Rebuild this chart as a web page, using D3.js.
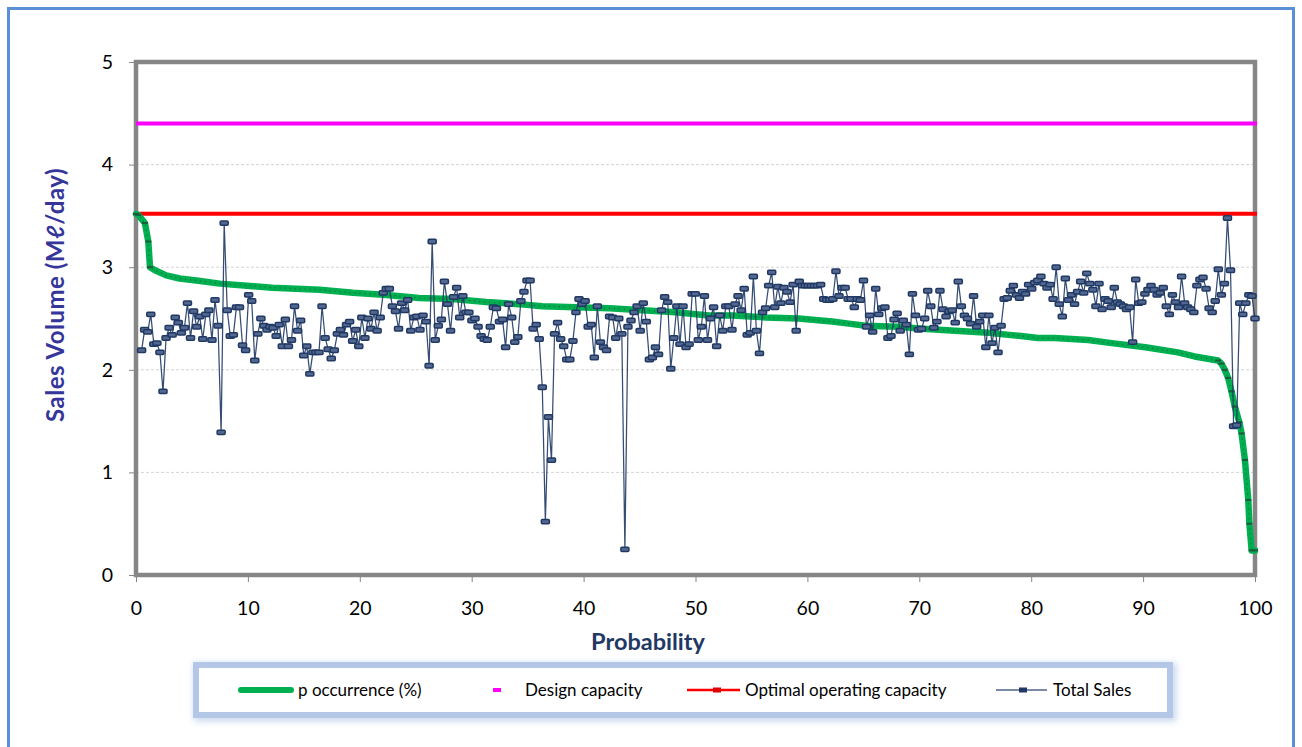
<!DOCTYPE html>
<html><head><meta charset="utf-8">
<script src="https://cdn.jsdelivr.net/npm/d3@7/dist/d3.min.js"></script>
<style>
html,body{margin:0;padding:0;background:#fff;}
text{font-family:Lato,"Open Sans",sans-serif;}
</style></head>
<body>
<svg id="chart" width="1302" height="747"></svg>
<script>
// ---------- DATA ----------
const xTicks = [0,10,20,30,40,50,60,70,80,90,100];
const yTicks = [0,1,2,3,4,5];
const designCapacity = 4.4;
const optimalCapacity = 3.52;

// Total Sales (daily values, plotted in order across the 0-100 probability axis)
const totalSales = [
2.19,2.39,2.37,2.54,2.25,2.26,2.17,1.79,2.31,2.41,2.34,2.51,2.46,2.36,2.41,2.65,2.31,2.57,2.42,2.52,2.30,2.54,2.58,2.29,2.68,2.43,1.39,3.43,2.58,2.33,2.34,2.61,2.61,2.24,2.19,2.73,2.67,2.09,2.35,2.50,2.43,2.39,2.42,2.41,2.33,2.44,2.23,2.49,2.23,2.29,2.62,2.38,2.48,2.14,2.23,1.96,2.17,2.17,2.17,2.62,2.31,2.20,
2.11,2.19,2.35,2.39,2.34,2.44,2.47,2.28,2.39,2.23,2.51,2.31,2.50,2.40,2.56,2.38,2.51,2.75,2.79,2.79,2.62,2.57,2.40,2.65,2.58,2.68,2.38,2.51,2.52,2.39,2.53,2.47,2.04,3.25,2.29,2.43,2.49,2.86,2.64,2.38,2.71,2.80,2.51,2.72,2.56,2.56,2.48,2.50,2.42,2.33,2.30,2.29,2.42,2.61,2.60,2.47,2.49,2.22,2.64,2.51,2.27,2.32,
2.67,2.76,2.87,2.87,2.40,2.44,2.30,1.83,0.52,1.54,1.12,2.35,2.46,2.30,2.23,2.10,2.10,2.28,2.56,2.69,2.64,2.67,2.42,2.44,2.12,2.62,2.27,2.22,2.19,2.52,2.51,2.31,2.50,2.35,0.25,2.42,2.48,2.56,2.62,2.38,2.65,2.47,2.10,2.12,2.22,2.15,2.58,2.71,2.66,2.01,2.31,2.62,2.25,2.62,2.22,2.25,2.74,2.74,2.29,2.42,2.72,2.29,
2.50,2.61,2.23,2.53,2.38,2.62,2.62,2.39,2.64,2.72,2.58,2.79,2.34,2.36,2.91,2.38,2.16,2.56,2.60,2.82,2.95,2.61,2.81,2.65,2.80,2.76,2.66,2.83,2.38,2.86,2.82,2.82,2.82,2.82,2.82,2.82,2.83,2.69,2.68,2.68,2.69,2.96,2.72,2.80,2.80,2.69,2.69,2.61,2.69,2.68,2.87,2.42,2.53,2.37,2.79,2.54,2.60,2.61,2.31,2.33,2.49,2.55,2.38,
2.48,2.44,2.15,2.74,2.53,2.39,2.40,2.50,2.77,2.62,2.41,2.47,2.77,2.59,2.52,2.57,2.58,2.46,2.86,2.62,2.53,2.50,2.45,2.72,2.42,2.47,2.53,2.22,2.53,2.26,2.41,2.17,2.43,2.69,2.70,2.77,2.82,2.73,2.70,2.76,2.74,2.83,2.79,2.85,2.87,2.91,2.84,2.80,2.83,2.69,3.00,2.64,2.52,2.89,2.68,2.73,2.64,2.76,2.86,2.75,2.94,
2.84,2.78,2.62,2.84,2.59,2.69,2.67,2.61,2.80,2.66,2.64,2.62,2.59,2.61,2.27,2.88,2.65,2.66,2.74,2.78,2.82,2.78,2.73,2.75,2.80,2.62,2.54,2.73,2.66,2.61,2.91,2.65,2.61,2.59,2.56,2.82,2.88,2.90,2.79,2.60,2.56,2.67,2.98,2.73,2.84,3.48,2.97,1.45,1.46,2.65,2.54,2.65,2.73,2.72,2.50
];
const salesStart = 0.5; // probability of the first plotted day

// p occurrence (%) curve: probability and value
const occProb = [0,0.2,0.8,1.1,1.25,1.7,2.7,3.9,5.4,7.5,9.9,12.2,14.3,16.4,19.4,22.4,25.3,28.3,31.3,34.2,36.3,39.3,42.3,45.3,48.2,51.2,53.3,56.3,59.2,62.2,63.7,65.2,68.1,70.3,73.2,76.2,79.1,80.6,82.1,85.1,87.2,90.2,93.1,94.6,96.7,97.0,97.3,97.6,97.9,98.2,98.6,98.8,99.1,99.4,99.5,99.7,100];
const occValue = [3.52,3.51,3.43,3.25,3.00,2.97,2.92,2.89,2.87,2.84,2.82,2.80,2.79,2.78,2.75,2.73,2.70,2.69,2.66,2.64,2.62,2.61,2.60,2.58,2.56,2.53,2.53,2.51,2.50,2.47,2.45,2.43,2.42,2.40,2.38,2.36,2.33,2.31,2.31,2.29,2.26,2.22,2.17,2.13,2.09,2.06,2.00,1.92,1.79,1.64,1.49,1.38,1.12,0.73,0.50,0.24,0.24];

const legendLabels = ["p occurrence (%)","Design capacity","Optimal operating capacity","Total Sales"];

// ---------- DRAW ----------
const svg = d3.select("#chart");
const L = 136, R = 1255, T = 62, B = 575;
const x = d3.scaleLinear().domain([0,100]).range([L,R]);
const y = d3.scaleLinear().domain([0,5]).range([B,T]);

const defs = svg.append("defs");
const f = defs.append("filter").attr("id","glow").attr("x","-5%").attr("y","-60%").attr("width","110%").attr("height","220%");
f.append("feGaussianBlur").attr("stdDeviation",3.5);

// outer frame
svg.append("rect").attr("x",8.5).attr("y",8.5).attr("width",1285).attr("height",770)
  .attr("fill","#fff").attr("stroke","#5b8fd6").attr("stroke-width",3);

// gridlines
svg.append("g").selectAll("line").data(yTicks.filter(d=>d>0&&d<5)).join("line")
  .attr("x1",L).attr("x2",R).attr("y1",d=>y(d)).attr("y2",d=>y(d))
  .attr("stroke","#d4d4d4").attr("stroke-width",1).attr("stroke-dasharray","3,2");

// axes
const ya = svg.append("g").attr("transform",`translate(${L},0)`)
  .call(d3.axisLeft(y).tickValues(yTicks).tickSize(7).tickPadding(16).tickFormat(d3.format("d")));
const xa = svg.append("g").attr("transform",`translate(0,${B})`)
  .call(d3.axisBottom(x).tickValues(xTicks).tickSize(7).tickPadding(19).tickFormat(d3.format("d")));
[ya,xa].forEach(a=>{
  a.select(".domain").remove();
  a.selectAll(".tick line").attr("stroke","#868686").attr("stroke-width",1);
  a.selectAll(".tick text").attr("fill","#000").style("font-size","19.5px").style("font-family","Lato, 'Open Sans', sans-serif");
});

// plot frame
svg.append("rect").attr("x",L).attr("y",T).attr("width",R-L).attr("height",B-T)
  .attr("fill","none").attr("stroke","#868686").attr("stroke-width",4.5);

// design & optimal capacity
svg.append("line").attr("x1",x(0)).attr("x2",x(100)+2).attr("y1",y(designCapacity)).attr("y2",y(designCapacity))
  .attr("stroke","#ff00ff").attr("stroke-width",4);
svg.append("line").attr("x1",x(0)).attr("x2",x(100)+2).attr("y1",y(optimalCapacity)).attr("y2",y(optimalCapacity))
  .attr("stroke","#ff0000").attr("stroke-width",4);

// p occurrence curve
const occ = occProb.map((p,i)=>({p, v: occValue[i]}));
const occLine = d3.line().x(d=>x(d.p)).y(d=>y(d.v));
svg.append("path").datum(occ).attr("d",occLine).attr("fill","none")
  .attr("stroke","#00b050").attr("stroke-width",6.5).attr("stroke-linejoin","round").attr("stroke-linecap","round");
svg.append("path").datum(occ).attr("d",occLine).attr("fill","none")
  .attr("stroke","#1e5a3c").attr("stroke-width",1.4).attr("stroke-dasharray","1,4").attr("opacity",0.8);
svg.append("g").selectAll("rect").data(occ.filter(d=>d.p<=1.3||d.p>=96.7)).join("rect")
  .attr("x",d=>x(d.p)-3).attr("y",d=>y(d.v)-1).attr("width",6).attr("height",2).attr("fill","#1e5a3c");

// total sales
const n = totalSales.length;
const step = (100 - salesStart) / (n - 1);
const sales = totalSales.map((v,i)=>({p: salesStart + i*step, v}));
svg.append("path").datum(sales).attr("d",d3.line().x(d=>x(d.p)).y(d=>y(d.v))).attr("fill","none")
  .attr("stroke","#1f3864").attr("stroke-width",1.25).attr("opacity",0.9);
svg.append("g").selectAll("rect").data(sales).join("rect")
  .attr("x",d=>x(d.p)-4).attr("y",d=>y(d.v)-2.2).attr("width",8).attr("height",4.4).attr("rx",1)
  .attr("fill","#54688f").attr("stroke","#1f3864").attr("stroke-width",1.5);

// axis titles
svg.append("text").attr("transform","translate(63.5,295) rotate(-90)").attr("text-anchor","middle")
  .style("font-size","24px").style("font-weight","bold").style("letter-spacing","0.5px")
  .attr("fill","#35359a").text("Sales Volume (Mℓ/day)");
svg.append("text").attr("x",648).attr("y",650).attr("text-anchor","middle")
  .style("font-size","23.5px").style("font-weight","bold").attr("fill","#1f3864").text("Probability");

// legend
const lg = svg.append("g");
lg.append("rect").attr("x",198).attr("y",667).attr("width",974).attr("height",50)
  .attr("fill","none").attr("stroke","#c5d5ee").attr("stroke-width",8).attr("filter","url(#glow)");
lg.append("rect").attr("x",196).attr("y",665).attr("width",974).attr("height",50)
  .attr("fill","#fff").attr("stroke","#b4c7e7").attr("stroke-width",6);
const ly = 690;
lg.append("line").attr("x1",241).attr("x2",291).attr("y1",ly).attr("y2",ly)
  .attr("stroke","#00b050").attr("stroke-width",6).attr("stroke-linecap","round");
lg.append("rect").attr("x",493).attr("y",ly-2).attr("width",8).attr("height",4).attr("fill","#ff00ff");
lg.append("line").attr("x1",687).attr("x2",740).attr("y1",ly).attr("y2",ly).attr("stroke","#ff0000").attr("stroke-width",2.5);
lg.append("rect").attr("x",713).attr("y",ly-2.5).attr("width",8).attr("height",5).attr("fill","#e00000");
lg.append("line").attr("x1",996).attr("x2",1047).attr("y1",ly).attr("y2",ly).attr("stroke","#4f6389").attr("stroke-width",1.3);
lg.append("rect").attr("x",1019).attr("y",ly-2.5).attr("width",8).attr("height",5).attr("fill","#1f3864");
const lx = [298,525,745,1053];
lg.selectAll("text.lt").data(legendLabels).join("text").attr("class","lt")
  .attr("x",(d,i)=>lx[i]).attr("y",ly+6).style("font-size","17px").attr("fill","#000").text(d=>d);
</script>
</body></html>
